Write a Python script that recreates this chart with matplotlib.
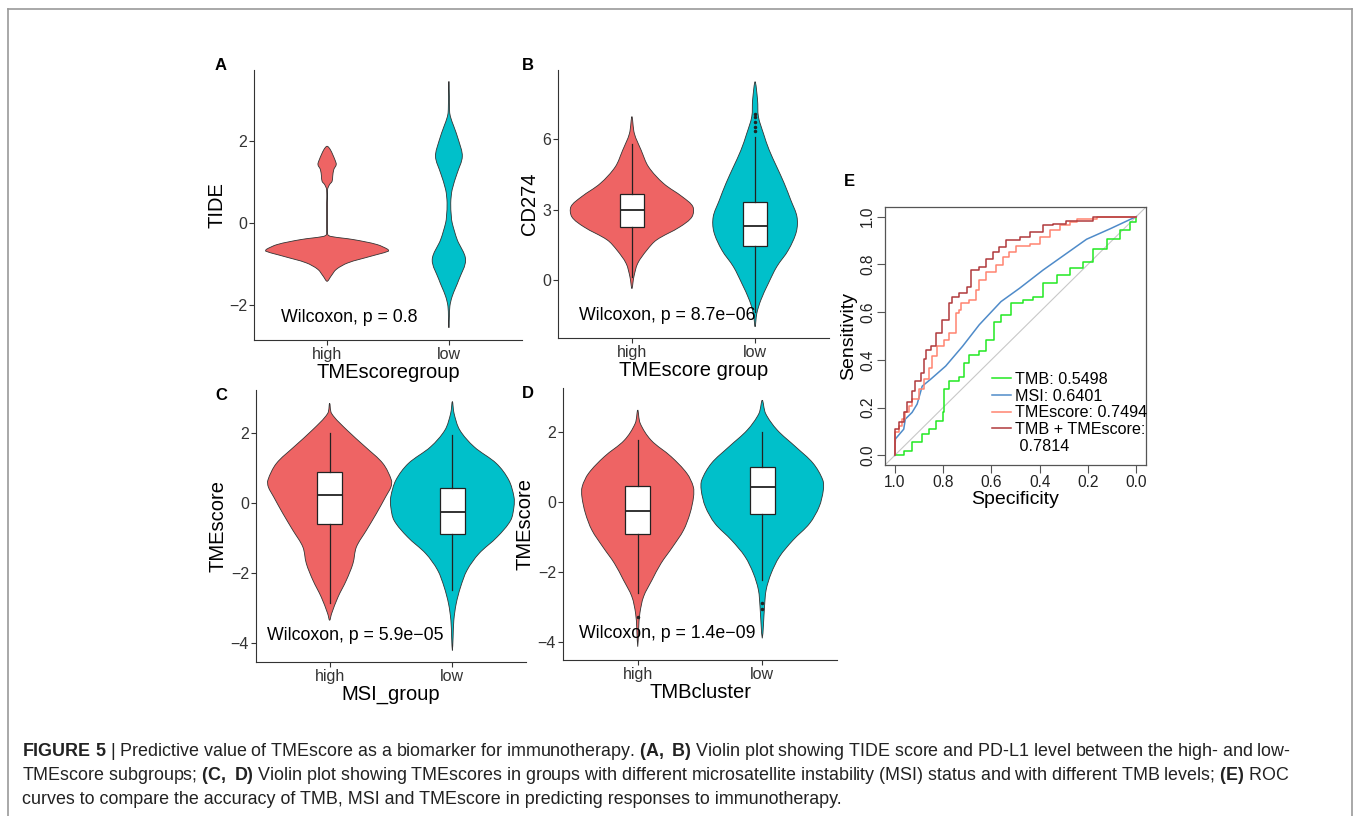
import numpy as np
import matplotlib
matplotlib.use('Agg')
import matplotlib.pyplot as plt
from matplotlib.lines import Line2D
from matplotlib.path import Path
from matplotlib.patches import PathPatch

plt.rcParams['font.family'] = ['Liberation Sans', 'DejaVu Sans']
plt.rcParams['mathtext.fontset'] = 'custom'
plt.rcParams['mathtext.rm'] = 'Liberation Sans'
plt.rcParams['mathtext.bf'] = 'Liberation Sans:bold'

groups = ['high', 'low']
RED = '#EE6464'
CYAN = '#00C0CA'

# ---- violin outlines: value grid and half-width (category units)
a_high_y = [1.88, 1.80, 1.55, 1.43, 1.31, 1.14, 1.02, 0.94, 0.82, 0.5, 0.2, -0.1, -0.22, -0.29, -0.33, -0.41, -0.53, -0.65, -0.69, -0.82, -0.98, -1.14, -1.31, -1.43]
a_high_w = [0.0, 0.026, 0.064, 0.075, 0.055, 0.046, 0.041, 0.02, 0.004, 0.004, 0.004, 0.004, 0.004, 0.006, 0.03, 0.22, 0.41, 0.50, 0.505, 0.355, 0.17, 0.075, 0.031, 0.0]
a_low_y = [3.47, 3.1, 2.78, 2.61, 2.37, 2.04, 1.63, 1.22, 0.82, 0.49, 0.16, 0.0, -0.41, -0.9, -1.39, -1.8, -2.04, -2.3, -2.57]
a_low_w = [0.0, 0.004, 0.005, 0.012, 0.04, 0.078, 0.11, 0.068, 0.027, 0.015, 0.02, 0.027, 0.068, 0.137, 0.082, 0.027, 0.008, 0.004, 0.0]

b_high_y = [6.97, 6.25, 5.54, 4.83, 4.12, 3.55, 3.13, 2.70, 2.27, 1.71, 1.28, 0.71, 0.14, -0.36]
b_high_w = [0.0, 0.02, 0.075, 0.135, 0.257, 0.41, 0.495, 0.488, 0.39, 0.2, 0.122, 0.047, 0.016, 0.0]
b_low_y = [8.46, 7.68, 6.97, 6.25, 5.54, 4.83, 4.12, 3.41, 2.70, 2.06, 1.28, 0.57, -0.14, -0.85, -1.42, -1.99]
b_low_w = [0.0, 0.02, 0.027, 0.068, 0.115, 0.176, 0.237, 0.29, 0.34, 0.335, 0.27, 0.176, 0.108, 0.047, 0.014, 0.0]

c_high_y = [2.85, 2.56, 2.09, 1.61, 1.13, 0.66, 0.47, 0.18, -0.3, -0.77, -1.25, -1.72, -2.2, -2.68, -3.15, -3.34]
c_high_w = [0.0, 0.016, 0.14, 0.29, 0.435, 0.503, 0.5, 0.456, 0.38, 0.3, 0.218, 0.19, 0.136, 0.068, 0.016, 0.0]
c_low_y = [2.9, 2.56, 2.09, 1.61, 1.13, 0.66, 0.18, -0.1, -0.49, -0.96, -1.44, -1.91, -2.39, -2.87, -3.34, -3.82, -4.2]
c_low_w = [0.0, 0.014, 0.06, 0.177, 0.36, 0.46, 0.502, 0.502, 0.475, 0.366, 0.216, 0.12, 0.067, 0.031, 0.012, 0.006, 0.0]

d_high_y = [2.62, 2.24, 1.76, 1.29, 0.81, 0.43, 0.14, -0.33, -0.81, -1.29, -1.76, -2.24, -2.71, -3.19, -3.6, -4.14]
d_high_w = [0.0, 0.02, 0.107, 0.268, 0.395, 0.446, 0.448, 0.42, 0.368, 0.28, 0.187, 0.114, 0.047, 0.017, 0.008, 0.0]
d_low_y = [2.9, 2.52, 2.05, 1.57, 1.10, 0.62, 0.33, -0.14, -0.62, -1.1, -1.57, -2.05, -2.52, -3.0, -3.48, -3.9]
d_low_w = [0.0, 0.027, 0.12, 0.268, 0.408, 0.486, 0.49, 0.457, 0.38, 0.246, 0.138, 0.071, 0.031, 0.018, 0.01, 0.0]

# ---- box plot stats: whisker low, q1, median, q3, whisker high
b_box = [[0.12, 2.25, 2.99, 3.67, 5.8], [-1.35, 1.46, 2.30, 3.31, 6.1]]
b_out = [[], [6.35, 6.55, 6.75, 6.95, 7.1]]
c_box = [[-2.85, -0.60, 0.23, 0.88, 2.0], [-2.49, -0.87, -0.25, 0.42, 1.94]]
c_out = [[], []]
d_box = [[-2.62, -0.93, -0.26, 0.45, 1.76], [-2.24, -0.36, 0.43, 1.0, 2.0]]
d_out = [[-3.29], [-2.9, -3.05]]

# ---- ROC curves (specificity, sensitivity)
tmb_spec = [1.0, 0.9625, 0.928, 0.886, 0.858, 0.83, 0.80, 0.796, 0.775, 0.733, 0.712, 0.692, 0.65, 0.622, 0.587, 0.56, 0.518, 0.469, 0.428, 0.386, 0.33, 0.275, 0.22, 0.178, 0.122, 0.067, 0.025, 0.0]
tmb_sens = [0.0, 0.02, 0.055, 0.09, 0.11, 0.145, 0.18, 0.277, 0.31, 0.33, 0.388, 0.42, 0.436, 0.485, 0.56, 0.59, 0.637, 0.651, 0.665, 0.72, 0.755, 0.783, 0.81, 0.866, 0.907, 0.942, 0.976, 1.0]
msi_spec = [1.0, 0.997, 0.9625, 0.956, 0.928, 0.907, 0.886, 0.851, 0.789, 0.719, 0.65, 0.56, 0.483, 0.386, 0.206, 0.108, 0.0]
msi_sens = [0.0, 0.069, 0.11, 0.152, 0.18, 0.215, 0.29, 0.319, 0.374, 0.457, 0.547, 0.644, 0.70, 0.776, 0.905, 0.949, 1.0]
tme_spec = [1.0, 0.997, 0.983, 0.97, 0.956, 0.942, 0.928, 0.9, 0.879, 0.858, 0.844, 0.824, 0.796, 0.775, 0.747, 0.733, 0.726, 0.692, 0.664, 0.65, 0.622, 0.58, 0.553, 0.525, 0.497, 0.442, 0.4, 0.358, 0.317, 0.275, 0.247, 0.164, 0.0]
tme_sens = [0.0, 0.097, 0.125, 0.152, 0.18, 0.208, 0.235, 0.277, 0.319, 0.367, 0.416, 0.457, 0.485, 0.512, 0.596, 0.609, 0.637, 0.651, 0.693, 0.734, 0.769, 0.796, 0.831, 0.852, 0.876, 0.886, 0.914, 0.942, 0.963, 0.976, 0.99, 0.997, 1.0]
both_spec = [1.0, 0.997, 0.983, 0.9625, 0.949, 0.928, 0.914, 0.893, 0.879, 0.872, 0.851, 0.83, 0.803, 0.775, 0.761, 0.733, 0.699, 0.685, 0.65, 0.622, 0.594, 0.567, 0.539, 0.483, 0.442, 0.386, 0.344, 0.289, 0.178, 0.0]
both_sens = [0.0, 0.11, 0.139, 0.18, 0.222, 0.27, 0.312, 0.346, 0.402, 0.443, 0.457, 0.512, 0.568, 0.637, 0.665, 0.679, 0.706, 0.776, 0.79, 0.824, 0.852, 0.873, 0.9, 0.914, 0.935, 0.963, 0.97, 0.983, 0.997, 1.0]
roc_labels = ['TMB: 0.5498', 'MSI: 0.6401', 'TMEscore: 0.7494', 'TMB + TMEscore:', ' 0.7814']

W, H = 1354, 816
fig = plt.figure(figsize=(W / 100, H / 100), dpi=100)


def px_axes(x0, y0, x1, y1):
    return fig.add_axes([x0 / W, 1 - y1 / H, (x1 - x0) / W, (y1 - y0) / H])


def violin(ax, pos, ys, ws, color, yspan):
    # closed outline, drawn as a smooth bezier path through the read points
    ys = np.array(ys)
    ws = np.array(ws)
    xs = np.concatenate([pos + ws, (pos - ws)[-2:0:-1]])
    yy = np.concatenate([ys, ys[-2:0:-1]])
    sc = np.array([1 / 2.2, 1 / yspan])
    P = np.column_stack([xs, yy]) * sc
    n = len(P)
    verts = [P[0]]
    codes = [Path.MOVETO]
    for i in range(n):
        p0, p1, p2, p3 = P[i - 1], P[i], P[(i + 1) % n], P[(i + 2) % n]
        chord = p2 - p1
        t1 = p2 - p0
        t2 = p3 - p1
        t1 = t1 / (np.linalg.norm(t1) + 1e-12)
        t2 = t2 / (np.linalg.norm(t2) + 1e-12)
        h1 = max(np.dot(t1, chord), 0) / 3
        h2 = max(np.dot(t2, chord), 0) / 3
        verts += [p1 + t1 * h1, p2 - t2 * h2, p2]
        codes += [Path.CURVE4] * 3
    verts = np.array(verts) / sc
    ax.add_patch(PathPatch(Path(verts, codes), facecolor=color, edgecolor='#333333', linewidth=0.6, zorder=2))


def boxes(ax, stats, outliers):
    bx = []
    for s, o in zip(stats, outliers):
        bx.append({'whislo': s[0], 'q1': s[1], 'med': s[2], 'q3': s[3], 'whishi': s[4], 'fliers': o})
    ax.bxp(bx, positions=[1, 2], widths=0.2, patch_artist=True, showcaps=False,
           boxprops=dict(facecolor='white', edgecolor='#222222', linewidth=0.9),
           medianprops=dict(color='#222222', linewidth=1.3),
           whiskerprops=dict(color='#222222', linewidth=0.9),
           flierprops=dict(marker='o', markersize=1.5, markerfacecolor='#222222', markeredgecolor='#222222'),
           zorder=3, manage_ticks=False)


def style_violin(ax, ylim, yticks, xlabel, ylabel):
    ax.set_xlim(0.4, 2.6)
    ax.set_ylim(*ylim)
    ax.set_xticks([1, 2])
    ax.set_xticklabels(groups)
    ax.set_yticks(yticks)
    ax.spines['top'].set_visible(False)
    ax.spines['right'].set_visible(False)
    for sp in ['left', 'bottom']:
        ax.spines[sp].set_color('#333333')
        ax.spines[sp].set_linewidth(0.8)
    ax.tick_params(length=3.5, width=0.8, color='#333333', labelsize=11.5, labelcolor='#333333', pad=1.5)
    ax.set_xlabel(xlabel, fontsize=14.5, labelpad=1)
    ax.set_ylabel(ylabel, fontsize=14.5, labelpad=2)
    ax.patch.set_alpha(0)


# A
axA = px_axes(254, 70, 522, 340)
violin(axA, 1, a_high_y, a_high_w, RED, 6.62)
violin(axA, 2, a_low_y, a_low_w, CYAN, 6.62)
style_violin(axA, (-2.87, 3.75), [-2, 0, 2], 'TMEscoregroup', 'TIDE')
axA.text(0.62, -2.33, 'Wilcoxon, p = 0.8', fontsize=12.8, ha='left', va='center')

# B
axB = px_axes(558, 70, 829, 338)
violin(axB, 1, b_high_y, b_high_w, RED, 11.43)
violin(axB, 2, b_low_y, b_low_w, CYAN, 11.43)
boxes(axB, b_box, b_out)
style_violin(axB, (-2.47, 8.96), [0, 3, 6], 'TMEscore group', 'CD274')
axB.text(0.57, -1.49, 'Wilcoxon, p = 8.7e\u221206', fontsize=12.8, ha='left', va='center', zorder=5)

# C
axC = px_axes(256, 390, 526, 662)
violin(axC, 1, c_high_y, c_high_w, RED, 7.76)
violin(axC, 2, c_low_y, c_low_w, CYAN, 7.76)
boxes(axC, c_box, c_out)
style_violin(axC, (-4.53, 3.23), [-4, -2, 0, 2], 'MSI_group', 'TMEscore')
axC.text(0.49, -3.77, 'Wilcoxon, p = 5.9e\u221205', fontsize=12.8, ha='left', va='center', zorder=5)

# D
axD = px_axes(563, 388, 837, 660)
violin(axD, 1, d_high_y, d_high_w, RED, 7.77)
violin(axD, 2, d_low_y, d_low_w, CYAN, 7.77)
boxes(axD, d_box, d_out)
style_violin(axD, (-4.52, 3.25), [-4, -2, 0, 2], 'TMBcluster', 'TMEscore')
axD.text(0.526, -3.75, 'Wilcoxon, p = 1.4e\u221209', fontsize=12.8, ha='left', va='center', zorder=5)

# E  ROC
axE = px_axes(885, 207, 1146, 465)
axE.axline((1, 0), (0, 1), color='#C8C8C8', lw=0.8, zorder=1)
l1, = axE.plot(tmb_spec, tmb_sens, color='#22E822', lw=1.1, drawstyle='steps-post')
l2, = axE.plot(msi_spec, msi_sens, color='#4F8BC9', lw=1.1)
l3, = axE.plot(tme_spec, tme_sens, color='#FF8470', lw=1.1, drawstyle='steps-post')
l4, = axE.plot(both_spec, both_sens, color='#B0393C', lw=1.1, drawstyle='steps-post')
blank = Line2D([], [], color='none')
axE.set_xlim(1.04, -0.04)
axE.set_ylim(-0.04, 1.04)
ticks = [1.0, 0.8, 0.6, 0.4, 0.2, 0.0]
axE.set_xticks(ticks)
axE.set_xticklabels(['%.1f' % t for t in ticks])
axE.set_yticks(ticks)
axE.set_yticklabels(['%.1f' % t for t in ticks], rotation=90, va='center')
for sp in axE.spines.values():
    sp.set_color('#555555')
    sp.set_linewidth(0.9)
axE.tick_params(length=6, width=0.8, color='#555555', labelsize=11.2, labelcolor='#222222', pad=1)
axE.set_xlabel('Specificity', fontsize=14, labelpad=1)
axE.set_ylabel('Sensitivity', fontsize=14, labelpad=2)
axE.legend([l1, l2, l3, l4, blank], roc_labels, loc='upper left', bbox_to_anchor=(0.41, 0.36),
           frameon=False, fontsize=11.6, handlelength=1.15, handletextpad=0.25,
           labelspacing=0.1, borderpad=0, borderaxespad=0)

# panel letters
for lab, (x, y) in zip('ABCDE', [(221, 66), (528, 66), (221, 395), (528, 393), (849, 181)]):
    fig.text(x / W, 1 - y / H, lab, fontsize=12, fontweight='bold', ha='center', va='center')

# caption
cap = [
    r'$\mathbf{FIGURE\ 5}$ | Predictive value of TMEscore as a biomarker for immunotherapy. '
    r'$\mathbf{(A,}$ $\mathbf{B)}$ Violin plot showing TIDE score and PD-L1 level between the high- and low-',
    r'TMEscore subgroups; $\mathbf{(C,}$ $\mathbf{D)}$ Violin plot showing TMEscores in groups with different '
    r'microsatellite instability (MSI) status and with different TMB levels; $\mathbf{(E)}$ ROC',
    'curves to compare the accuracy of TMB, MSI and TMEscore in predicting responses to immunotherapy.',
]
for line, y in zip(cap, [751, 776, 800]):
    fig.text(22 / W, 1 - y / H, line, fontsize=12.9, color='#222222', ha='left', va='center')

# frame
fc = '#9A9A9A'
fig.add_artist(Line2D([8 / W, 8 / W], [0, 1 - 9 / H], color=fc, lw=1.2))
fig.add_artist(Line2D([8 / W, 1352 / W], [1 - 9 / H, 1 - 9 / H], color=fc, lw=1.2))
fig.add_artist(Line2D([1352 / W, 1352 / W], [0, 1 - 9 / H], color=fc, lw=1.2))

fig.savefig('out.png', dpi=100)
